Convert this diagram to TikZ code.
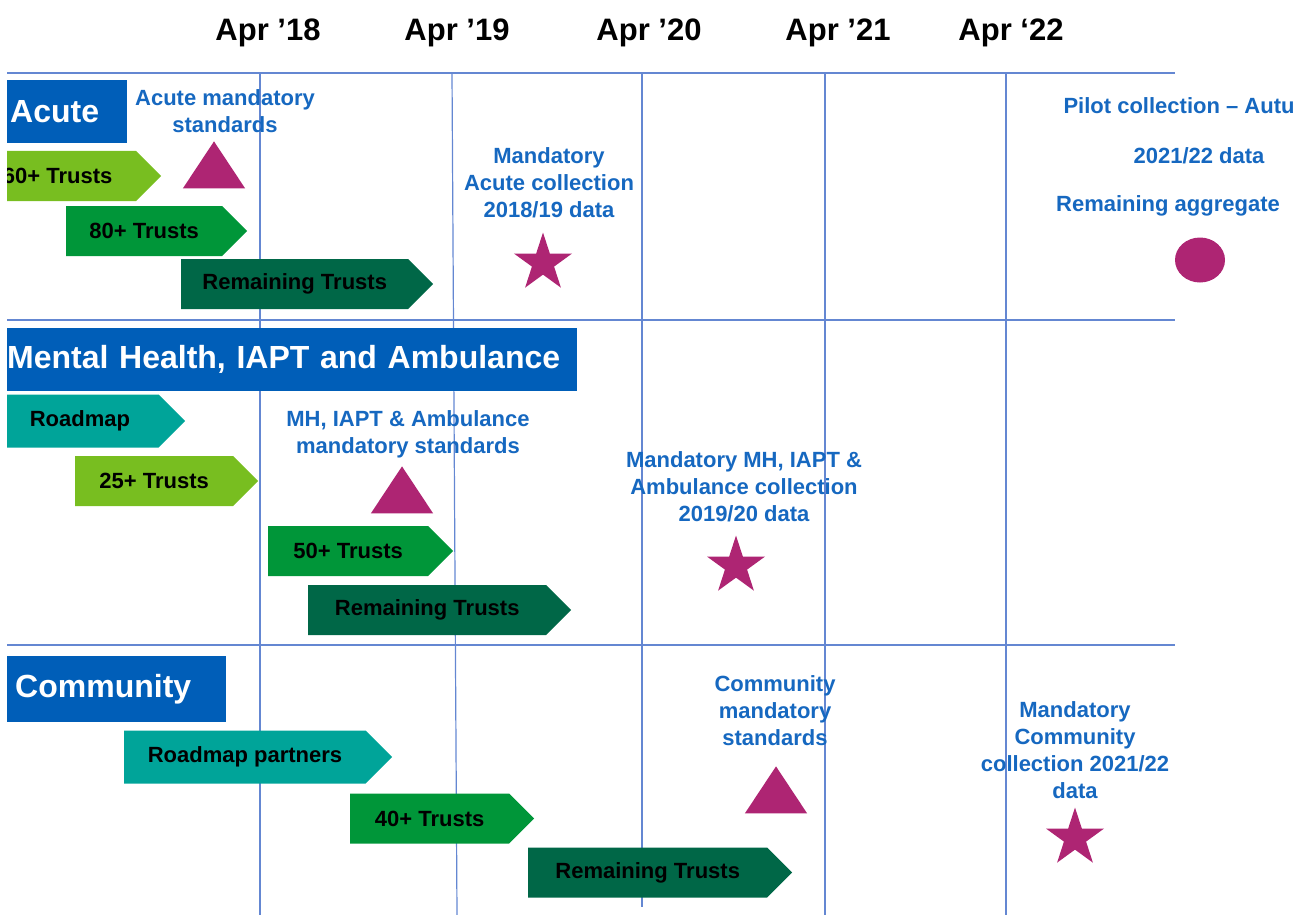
\documentclass[tikz,border=0pt]{standalone}
\usepackage{fontspec}
\setmainfont{Liberation Sans}
\usepackage{tikz}
\usetikzlibrary{shapes.geometric, shapes.symbols}
\definecolor{nhsblue}{RGB}{0,94,184}
\definecolor{labelblue}{RGB}{22,104,192}
\definecolor{gridblue}{RGB}{100,135,210}
\definecolor{lightgreen}{RGB}{120,190,32}
\definecolor{midgreen}{RGB}{0,150,57}
\definecolor{darkgreen}{RGB}{0,103,71}
\definecolor{aquagreen}{RGB}{0,164,153}
\definecolor{markpink}{RGB}{174,37,115}
\tikzstyle{section} = [rectangle, fill=nhsblue, text=white, font=\fontsize{32}{38}\selectfont\bfseries, inner xsep=3pt, inner ysep=0pt, align=left, anchor=west]
\tikzstyle{chevron} = [signal, signal to=east, signal pointer angle=90, font=\fontsize{22}{26}\selectfont\bfseries, inner sep=0pt, minimum height=50pt, anchor=west]
\tikzstyle{milestone} = [text=labelblue, font=\fontsize{22}{27}\selectfont\bfseries, align=center]
\tikzstyle{year} = [font=\fontsize{31}{36}\selectfont\bfseries]
\tikzstyle{gridline} = [gridblue, line width=1.2pt]
\tikzstyle{rowline} = [gridblue, line width=2pt]
\tikzstyle{trimark} = [isosceles triangle, isosceles triangle apex angle=67, shape border rotate=90, fill=markpink, inner sep=0pt, minimum size=47pt, anchor=apex]
\tikzstyle{starmark} = [star, star points=5, star point ratio=2.618, fill=markpink, inner sep=0pt, minimum size=61pt]

\begin{document}
\begin{tikzpicture}[x=1pt, y=-1pt]
\useasboundingbox (0,0) rectangle (1293,915);

% Years along the top
\node[year] (apr18) at (268,33) {Apr ’18};
\node[year] (apr19) at (457,33) {Apr ’19};
\node[year] (apr20) at (649,33) {Apr ’20};
\node[year] (apr21) at (838,33) {Apr ’21};
\node[year] (apr22) at (1011,33) {Apr ‘22};

\begin{scope}
\clip (7,0) rectangle (1293,915);

% Grid: row separators and year lines
\draw[rowline] (7,73) -- (1175,73);
\draw[rowline] (7,320) -- (1175,320);
\draw[rowline] (7,645) -- (1175,645);
\draw[gridline] (260,73) -- (260,915);
\draw[gridline] (452,73) -- (457,915);
\draw[gridline] (642,73) -- (642,907);
\draw[gridline] (825,73) -- (825,915);
\draw[gridline] (1006,73) -- (1006,915);

% Acute row
\node[section, text width=114pt, minimum height=63pt] (acute) at (7,111.5) {Acute};
\node[chevron, fill=lightgreen, minimum width=182pt] (acute60) at (-21,176) {60+ Trusts};
\node[chevron, fill=midgreen, minimum width=181pt] (acute80) at (66,231) {80+ Trusts};
\node[chevron, fill=darkgreen, minimum width=252pt] (acuterest) at (181,284) {Remaining Trusts};
\node[milestone] (acutestdtext) at (225,111.5) {Acute mandatory\\standards};
\node[trimark] (acutestd) at (214,141) {};
\node[milestone] (acutecolltext) at (549,183) {Mandatory\\Acute collection\\2018/19 data};
\node[starmark] (acutecoll) at (543,263) {};
\node[milestone, anchor=west] (pilottext1) at (1060,106) {Pilot collection – Autumn};
\node[milestone] (pilottext2) at (1199,156) {2021/22 data};
\node[milestone] (pilottext3) at (1168,206) {Remaining aggregate};
\node[ellipse, fill=markpink, minimum width=50pt, minimum height=45pt, inner sep=0pt] (pilot) at (1200,260) {};

% Mental health, IAPT and ambulance row
\node[section, inner xsep=0pt, text width=570pt, minimum height=63pt] (mh) at (7,359) {Mental Health, IAPT and Ambulance};
\node[chevron, fill=aquagreen, minimum width=184pt, minimum height=53pt] (mhroad) at (1,421) {Roadmap};
\node[chevron, fill=lightgreen, minimum width=183pt] (mh25) at (75,481) {25+ Trusts};
\node[chevron, fill=midgreen, minimum width=185pt] (mh50) at (268,551) {50+ Trusts};
\node[chevron, fill=darkgreen, minimum width=263pt] (mhrest) at (308,610) {Remaining Trusts};
\node[milestone] (mhstdtext) at (408,434.5) {MH, IAPT \& Ambulance\\mandatory standards};
\node[trimark] (mhstd) at (402,466) {};
\node[milestone] (mhcolltext) at (744,487) {Mandatory MH, IAPT \&\\Ambulance collection\\2019/20 data};
\node[starmark] (mhcoll) at (736,566) {};

% Community row
\node[section, inner xsep=8pt, text width=203pt, minimum height=66pt] (comm) at (7,689) {Community};
\node[chevron, fill=aquagreen, minimum width=268pt, minimum height=53pt] (commroad) at (124,757) {Roadmap partners};
\node[chevron, fill=midgreen, minimum width=184pt] (comm40) at (350,818.5) {40+ Trusts};
\node[chevron, fill=darkgreen, minimum width=264pt] (commrest) at (528,872.5) {Remaining Trusts};
\node[milestone] (commstdtext) at (775,711) {Community\\mandatory\\standards};
\node[trimark] (commstd) at (776,766) {};
\node[milestone] (commcolltext) at (1075,750) {Mandatory\\Community\\collection 2021/22\\data};
\node[starmark] (commcoll) at (1075,838) {};
\end{scope}

\end{tikzpicture}
\end{document}
